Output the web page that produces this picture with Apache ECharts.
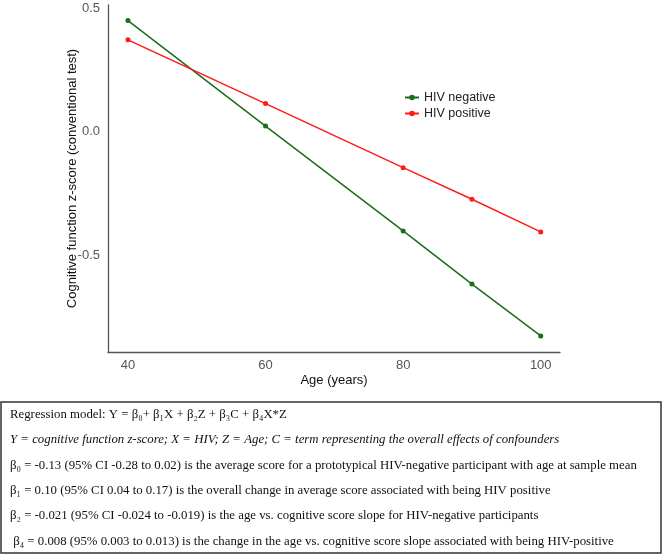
<!DOCTYPE html>
<html>
<head>
<meta charset="utf-8">
<script src="https://cdn.jsdelivr.net/npm/echarts@6/dist/echarts.min.js"></script>
<style>html,body{margin:0;padding:0;background:#fff;}#c{width:662px;height:556px;}</style>
</head>
<body>
<div id="c"></div>
<script>
const ages = [40, 60, 80, 90, 100];
const hivNegative = [0.449, 0.022, -0.402, -0.617, -0.827];
const hivPositive = [0.371, 0.113, -0.146, -0.274, -0.406];
const xTicks = [40, 60, 80, 100];
const yTicks = [-0.5, 0, 0.5];
const seriesNames = ['HIV negative', 'HIV positive'];
const noteLines = [
  'Regression model: Y = β₀+ β₁X + β₂Z + β₃C + β₄X*Z',
  'Y = cognitive function z-score; X = HIV; Z = Age; C = term representing the overall effects of confounders',
  'β₀ = -0.13 (95% CI -0.28 to 0.02) is the average score for a prototypical HIV-negative participant with age at sample mean',
  'β₁ = 0.10 (95% CI 0.04 to 0.17) is the overall change in average score associated with being HIV positive',
  'β₂ = -0.021 (95% CI -0.024 to -0.019) is the age vs. cognitive score slope for HIV-negative participants',
  ' β₄ = 0.008 (95% 0.003 to 0.013) is the change in the age vs. cognitive score slope associated with being HIV-positive'
];

const chart = echarts.init(document.getElementById('c'), null, {renderer: 'canvas'});
const sans = 'Liberation Sans, Arial, sans-serif';
const serif = 'Liberation Serif, Times New Roman, serif';

const textEls = noteLines.map((t, i) => ({
  type: 'text',
  left: 10,
  top: 408 + i * 25.4,
  style: {
    text: t,
    font: (i === 1 ? 'italic ' : '') + '12.8px ' + serif,
    fill: '#111'
  }
}));

chart.setOption({
  animation: false,
  backgroundColor: '#fff',
  grid: {left: 108, right: 102, top: 5, bottom: 204, containLabel: false},
  legend: {
    orient: 'vertical',
    left: 399,
    top: 86,
    itemGap: 3,
    itemWidth: 14,
    itemHeight: 7,
    textStyle: {fontFamily: sans, fontSize: 12.5, color: '#222'},
    data: seriesNames
  },
  xAxis: {
    type: 'value',
    min: 37.1,
    max: 102.8,
    name: 'Age (years)',
    nameLocation: 'middle',
    nameGap: 22,
    nameMoveOverlap: false,
    nameTextStyle: {fontFamily: sans, fontSize: 13, color: '#111'},
    axisLine: {show: true, onZero: false, lineStyle: {color: '#555', width: 1.3}},
    axisTick: {show: false},
    splitLine: {show: false},
    axisLabel: {
      customValues: xTicks,
      fontFamily: sans, fontSize: 13, color: '#555', margin: 7,
      formatter: v => String(v)
    }
  },
  yAxis: {
    type: 'value',
    min: -0.892,
    max: 0.512,
    name: 'Cognitive function z-score (conventional test)',
    nameLocation: 'middle',
    nameGap: 29,
    nameMoveOverlap: false,
    nameTextStyle: {fontFamily: sans, fontSize: 13, color: '#111'},
    axisLine: {show: true, onZero: false, lineStyle: {color: '#555', width: 1.3}},
    axisTick: {show: false},
    splitLine: {show: false},
    axisLabel: {
      customValues: yTicks,
      fontFamily: sans, fontSize: 13, color: '#555', margin: 8,
      formatter: v => v.toFixed(1)
    }
  },
  series: [
    {
      name: seriesNames[0], type: 'line',
      data: ages.map((a, i) => [a, hivNegative[i]]),
      symbol: 'circle', symbolSize: 5,
      itemStyle: {color: '#1a6e1a'},
      lineStyle: {color: '#1a6e1a', width: 1.5}
    },
    {
      name: seriesNames[1], type: 'line',
      data: ages.map((a, i) => [a, hivPositive[i]]),
      symbol: 'circle', symbolSize: 5,
      itemStyle: {color: '#ff1a1a'},
      lineStyle: {color: '#ff1a1a', width: 1.5}
    }
  ],
  graphic: [
    {
      type: 'rect',
      shape: {x: 1, y: 402, width: 660, height: 151},
      style: {fill: '#fff', stroke: '#333', lineWidth: 1.5}
    }
  ].concat(textEls)
});
</script>
</body>
</html>
